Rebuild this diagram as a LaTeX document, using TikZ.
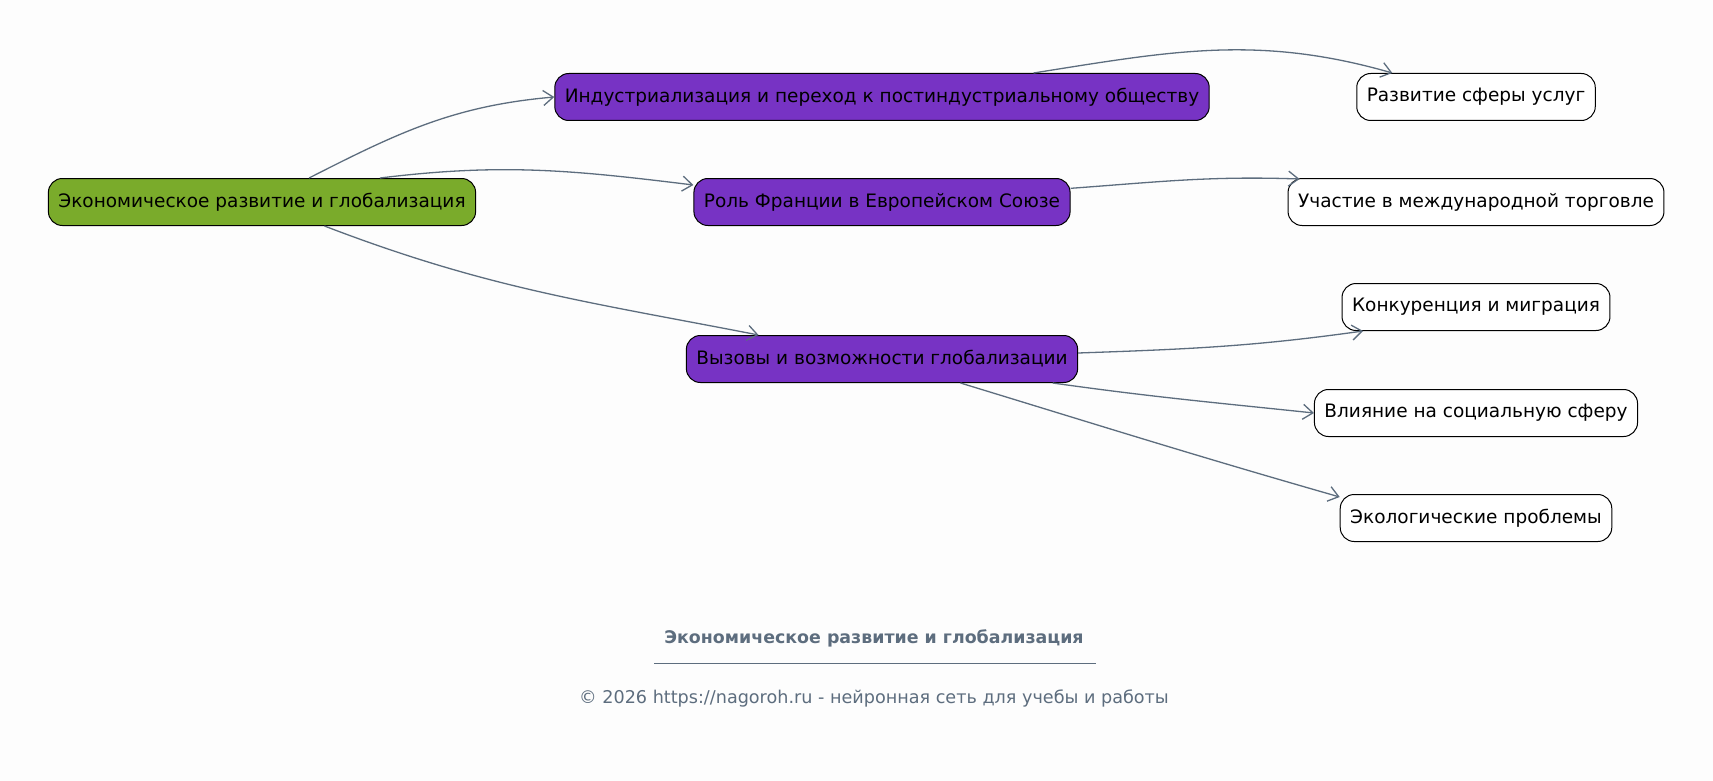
\documentclass[tikz,border=0pt]{standalone}
\usepackage{fontspec}
\setmainfont{DejaVu Sans}
\usetikzlibrary{arrows.meta}
\definecolor{rootgreen}{HTML}{7AAB2B}
\definecolor{topicviolet}{HTML}{7733C4}
\definecolor{edgegray}{HTML}{5D6D7E}
\definecolor{pagebg}{HTML}{FDFDFD}
\begin{document}
\begin{tikzpicture}[x=1pt, y=1pt,
    box/.style={draw=black, line width=1pt, rounded corners=14pt, minimum height=47pt,
        inner xsep=10pt, font=\fontsize{18.5}{21}\selectfont},
    root/.style={box, fill=rootgreen},
    topic/.style={box, fill=topicviolet},
    leaf/.style={box, fill=white},
    link/.style={draw=edgegray, line width=1.3pt, -{Straight Barb[length=10pt,width=15pt]}}]
    \fill[pagebg] (0,0) rectangle (1713,-781);
    \useasboundingbox (0,0) rectangle (1713,-781);

    \node[root] (eco) at (262,-202) {Экономическое развитие и глобализация};
    \node[topic] (ind) at (882,-97) {Индустриализация и переход к постиндустриальному обществу};
    \node[topic] (rol) at (882,-202) {Роль Франции в Европейском Союзе};
    \node[topic] (vyz) at (882,-359) {Вызовы и возможности глобализации};
    \foreach \n/\y/\t in {usl/97/Развитие сферы услуг, uch/202/Участие в международной торговле,
            konk/307/Конкуренция и миграция, vli/413/Влияние на социальную сферу,
            ekol/518/Экологические проблемы} {
        \node[leaf] (\n) at (1476,-\y) {\t};
    }

    \draw[link] (eco) to[out=27, in=185] (ind.west);
    \draw[link] ([xshift=118pt]eco.north) to[out=7, in=173] ([yshift=17pt]rol.west);
    \draw[link] (eco) to[out=-21, in=169] (vyz);
    \draw[link] (ind) to[out=9, in=164] (usl);
    \draw[link] (rol) to[out=4.5, in=178] ([xshift=12pt,yshift=-1pt]uch.north west);
    \draw[link] ([yshift=6pt]vyz.east) to[out=2, in=188] (konk.192);
    \draw[link] (vyz) to[out=-8, in=174] (vli.west);
    \draw[link] (vyz) to[out=-17, in=164] ([yshift=21pt]ekol.west);

    \node[text=edgegray, font=\bfseries\fontsize{17.4}{20}\selectfont] (title) at (874,-638)
        {Экономическое развитие и глобализация};
    \draw[edgegray, line width=0.7pt] (654,-663) -- (1096,-663);
    \node[text=edgegray, font=\fontsize{17.6}{20}\selectfont] (copy) at (874,-698)
        {© 2026 https://nagoroh.ru - нейронная сеть для учебы и работы};
\end{tikzpicture}
\end{document}
